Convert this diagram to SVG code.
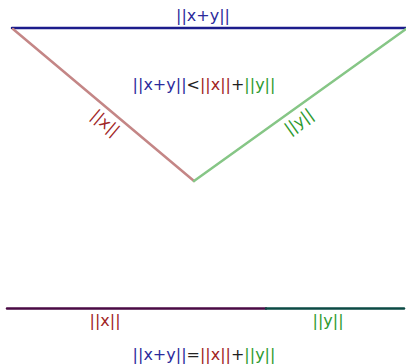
<svg xmlns="http://www.w3.org/2000/svg" width="406" height="364" viewBox="0 0 406 364">
<style>
text{font-family:"DejaVu Sans",sans-serif;font-size:16px;text-anchor:middle}
.b{fill:#2b2b9c}.r{fill:#a02424}.g{fill:#2e9a2e}.k{fill:#222}
line{stroke-width:2.5;stroke-linecap:round}
</style>
<rect width="406" height="364" fill="#fff"/>
<g id="connectors">
<line x1="12" y1="28" x2="406" y2="28" stroke="#1c1c8c"/>
<line x1="13" y1="29" x2="194" y2="181" stroke="#c48686"/>
<line x1="194" y1="181" x2="406" y2="29" stroke="#86c686"/>
<line x1="7" y1="308.5" x2="266" y2="308.5" stroke="#4a0a44" stroke-linecap="butt"/>
<line x1="266" y1="308.5" x2="404" y2="308.5" stroke="#0b4a44" stroke-linecap="butt"/>
</g>
<g id="label-top"><text x="203" y="21" class="b">||x+y||</text></g>
<g id="label-ineq"><text x="204" y="90"><tspan class="b">||x+y||</tspan><tspan class="k">&lt;</tspan><tspan class="r">||x||</tspan><tspan class="k">+</tspan><tspan class="g">||y||</tspan></text></g>
<g id="label-x-diag"><text class="r" transform="translate(102,127) rotate(40)">||x||</text></g>
<g id="label-y-diag"><text class="g" transform="translate(302,126) rotate(-35.6)">||y||</text></g>
<g id="label-x-bottom"><text x="105" y="326" class="r">||x||</text></g>
<g id="label-y-bottom"><text x="328" y="326" class="g">||y||</text></g>
<g id="label-eq"><text x="204" y="360"><tspan class="b">||x+y||</tspan><tspan class="k">=</tspan><tspan class="r">||x||</tspan><tspan class="k">+</tspan><tspan class="g">||y||</tspan></text></g>
</svg>
